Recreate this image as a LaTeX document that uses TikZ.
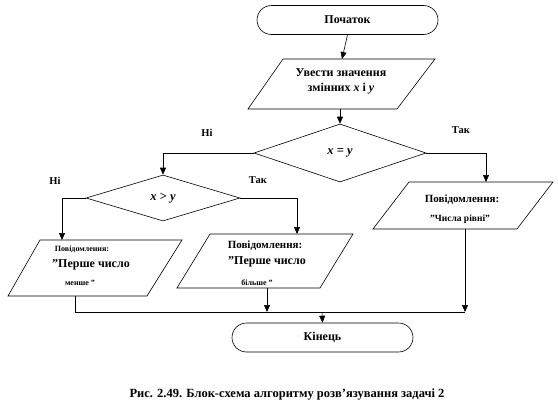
\documentclass[tikz,border=0pt]{standalone}
\usepackage{fontspec}
\setmainfont{Liberation Serif}
\usetikzlibrary{arrows.meta,shapes.geometric}
\newcommand{\dq}{\char"0022\relax}
\begin{document}
\begin{tikzpicture}[x=1pt,y=-1pt,line width=0.6pt,
 term/.style={draw,rectangle,rounded corners=14.5pt,minimum width=181pt,minimum height=29pt,font=\bfseries\fontsize{12}{14}\selectfont},
 dec/.style={draw,diamond,inner sep=0pt,font=\bfseries\fontsize{12.5}{14}\selectfont},
 arr/.style={-{Triangle[length=7pt,width=6pt]}},
 txt/.style={font=\bfseries\fontsize{12}{14}\selectfont,inner sep=0pt},
 mtxt/.style={font=\bfseries\fontsize{11}{13}\selectfont,inner sep=0pt},
 stxt/.style={font=\bfseries\fontsize{8}{10}\selectfont,inner sep=0pt},
 lbl/.style={font=\bfseries\fontsize{10.5}{12}\selectfont,inner sep=0pt}]
\useasboundingbox (0,0) rectangle (558,407);
% terminals
\node[term] (start) at (347.5,20) {Початок};
\node[term] (end) at (322.5,337.5) {Кінець};
% input parallelogram
\draw (283,59) -- (435,59) -- (397,109) -- (248,109) -- cycle;
\coordinate (p1t) at (342,59);
\coordinate (p1b) at (340,109);
\node[txt] (p1a) at (341,73) {Увести значення};
\node[txt] (p1c) at (341,89) {змінних \textit{x} і \textit{y}};
% decisions
\node[dec,minimum width=172pt,minimum height=58pt] (d1) at (340,153) {\textit{x} = \textit{y}};
\node[dec,minimum width=154pt,minimum height=46pt] (d2) at (163,198) {\textit{x} > \textit{y}};
% right output
\draw (409,182) -- (553,182) -- (517,229) -- (373,229) -- cycle;
\coordinate (p3t) at (486,182);
\coordinate (p3b) at (465,229);
\node[mtxt] (p3a) at (462,200) {Повідомлення:};
\node[stxt,font=\bfseries\fontsize{9.5}{11}\selectfont] (p3c) at (460,219) {\dq Числа рівні\dq};
% left output
\draw (40,240) -- (182,240) -- (147,296) -- (8,296) -- cycle;
\coordinate (p4t) at (62,240);
\coordinate (p4b) at (75,296);
\node[stxt] (p4a) at (82,249) {Повідомлення:};
\node[txt] (p4c) at (91,265) {\dq Перше число};
\node[stxt] (p4d) at (80,283) {менше \dq};
% middle output
\draw (210,234) -- (353,234) -- (320,288) -- (177,288) -- cycle;
\coordinate (p5t) at (297,234);
\coordinate (p5b) at (267,288);
\node[mtxt] (p5a) at (265,246) {Повідомлення:};
\node[txt] (p5c) at (267,262) {\dq Перше число};
\node[stxt] (p5d) at (257,283) {більше \dq};
% junction points
\coordinate (jL) at (75,312);
\coordinate (jM) at (267,312);
\coordinate (jE) at (322,312);
\coordinate (jR) at (465,312);
% connectors
\draw[arr] (start.south) -- (p1t);
\draw[arr] (p1b) -- (d1.north);
\draw[arr] (d1.west) -| (d2.north);
\draw[arr] (d1.east) -| (p3t);
\draw[arr] (d2.west) -| (p4t);
\draw[arr] (d2.east) -| (p5t);
\draw (p4b) -- (jL) -- (jR);
\draw[arr] (p5b) -- (jM);
\draw[arr] (p3b) -- (jR);
\draw[arr] (jE) -- (end.north);
% labels
\node[lbl] (n1) at (207,133) {Ні};
\node[lbl] (t1) at (461,130) {Так};
\node[lbl] (n2) at (55,181) {Ні};
\node[lbl] (t2) at (258,180) {Так};
\node[lbl,font=\bfseries\fontsize{12.5}{14}\selectfont] (cap) at (287,395) {Рис. 2.49. Блок-схема алгоритму розв’язування задачі 2};
\end{tikzpicture}
\end{document}
